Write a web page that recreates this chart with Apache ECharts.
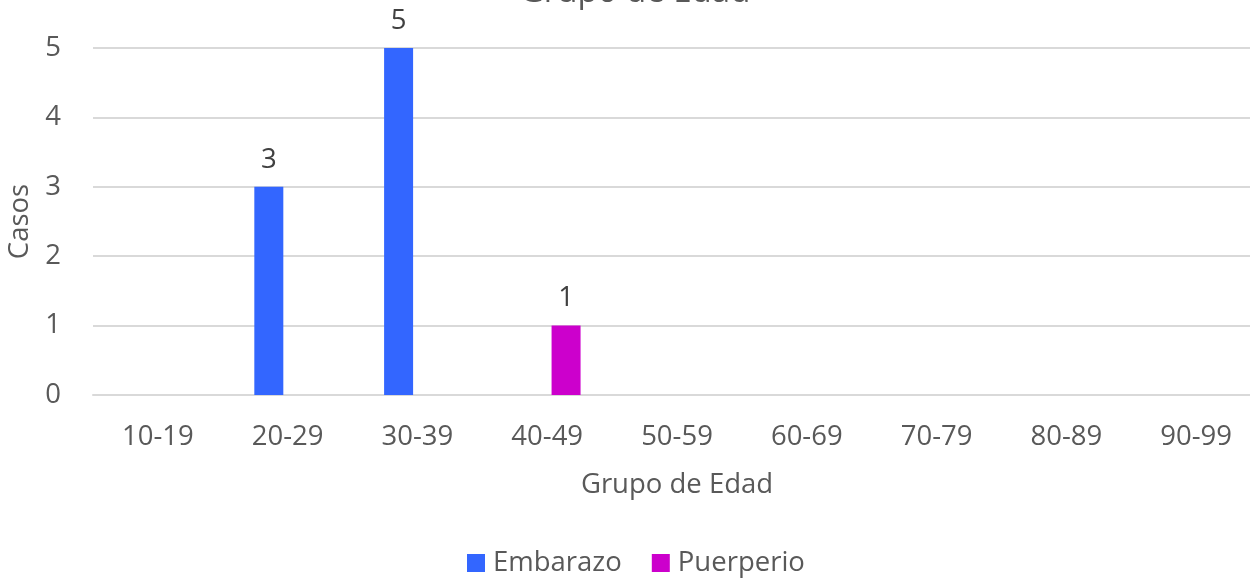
<!DOCTYPE html>
<html>
<head>
<meta charset="utf-8">
<script src="https://cdn.jsdelivr.net/npm/echarts@6/dist/echarts.min.js"></script>
<style>
  html, body { margin: 0; padding: 0; background: #fff; }
  #chart { width: 1250px; height: 579px; }
</style>
</head>
<body>
<div id="chart"></div>
<script>
var categories = ['10-19', '20-29', '30-39', '40-49', '50-59', '60-69', '70-79', '80-89', '90-99'];
var embarazo = [null, 3, 5, null, null, null, null, null, null];
var puerperio = [null, null, null, 1, null, null, null, null, null];
var yTicks = [0, 1, 2, 3, 4, 5];

var font = '"Open Sans", sans-serif';
var fs = 27.5;
var chart = echarts.init(document.getElementById('chart'));
var option = {
  animation: false,
  textStyle: { fontFamily: font },
  title: {
    text: 'Grupo de Edad',
    left: 630,
    textAlign: 'center',
    top: -29,
    textStyle: { fontFamily: font, fontSize: 33, fontWeight: 'normal', color: '#595959' }
  },
  legend: {
    data: ['Embarazo', 'Puerperio'],
    bottom: -3,
    left: 462,
    itemWidth: 18,
    itemHeight: 18,
    itemGap: 30,
    icon: 'rect',
    textStyle: { fontFamily: font, fontSize: 27.5, color: '#595959', padding: [0, 0, 0, 3] }
  },
  grid: { left: 93, width: 1168, top: 48, bottom: 184, outerBoundsMode: 'none', containLabel: false },
  xAxis: {
    type: 'category',
    data: categories,
    name: 'Grupo de Edad',
    nameLocation: 'middle',
    nameGap: 76,
    nameTextStyle: { fontFamily: font, fontSize: fs, color: '#595959' },
    axisLine: { lineStyle: { color: '#d9d9d9', width: 2 } },
    axisTick: { show: false },
    axisLabel: { fontFamily: font, fontSize: fs, color: '#595959', margin: 28 }
  },
  yAxis: {
    type: 'value',
    min: yTicks[0],
    max: yTicks[yTicks.length - 1],
    interval: 1,
    name: 'Casos',
    nameLocation: 'middle',
    nameGap: 58,
    nameTextStyle: { fontFamily: font, fontSize: fs, color: '#595959' },
    axisLine: { show: false },
    axisTick: { show: false },
    splitLine: { lineStyle: { color: '#d9d9d9', width: 2 } },
    axisLabel: { fontFamily: font, fontSize: fs, color: '#595959', margin: 32 }
  },
  series: [
    {
      name: 'Embarazo',
      type: 'bar',
      data: embarazo,
      barWidth: 29,
      barGap: '30%',
      itemStyle: { color: '#3366ff' },
      label: { show: true, position: 'top', distance: 13, fontFamily: font, fontSize: fs, color: '#404040' }
    },
    {
      name: 'Puerperio',
      type: 'bar',
      data: puerperio,
      barWidth: 29,
      itemStyle: { color: '#cc00cc' },
      label: { show: true, position: 'top', distance: 13, fontFamily: font, fontSize: fs, color: '#404040' }
    }
  ]
};
chart.setOption(option);
</script>
</body>
</html>
